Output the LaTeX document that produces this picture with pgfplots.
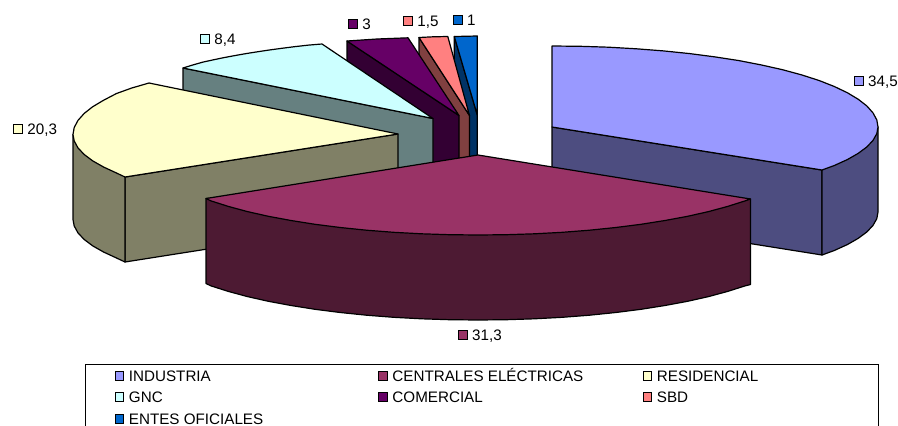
\documentclass[border=0pt]{standalone}
\usepackage{pgfplots}
\pgfplotsset{compat=1.18}
\usepackage{fontspec}
\setmainfont{Liberation Sans}

\definecolor{ind}{HTML}{9999FF}\definecolor{indd}{HTML}{4D4D80}
\definecolor{cen}{HTML}{993366}\definecolor{cend}{HTML}{4D1A33}
\definecolor{res}{HTML}{FFFFCC}\definecolor{resd}{HTML}{808066}
\definecolor{gnc}{HTML}{CCFFFF}\definecolor{gncd}{HTML}{668080}
\definecolor{com}{HTML}{660066}\definecolor{comd}{HTML}{330033}
\definecolor{sbd}{HTML}{FF8080}\definecolor{sbdd}{HTML}{804040}
\definecolor{ent}{HTML}{0066CC}\definecolor{entd}{HTML}{003366}

\pgfplotsset{
  face/.style={fill=#1,draw=black,line width=1.2pt,line join=round},
  key/.style={only marks,mark=square*,mark size=4.4pt,
    mark options={fill=#1,draw=black,line width=0.9pt}},
  lab/.style={nodes near coords={#1},
    nodes near coords style={anchor=base west,inner sep=0pt,xshift=9pt,yshift=-5.3pt,
      text=black,font=\fontsize{15.2}{17}\selectfont}},
}

\begin{document}
\begin{tikzpicture}
\begin{axis}[
  scale only axis,
  width=898pt,height=426pt,
  xmin=0,xmax=898,ymin=0,ymax=426,
  y dir=reverse,
  hide axis,
]
% keeps the page as large as the axis
\addplot[draw=none] coordinates {(0,0)(898,426)};
% ENTES OFICIALES
\addplot[face=entd] coordinates {(454.3,36.5)(477.3,115)(477.3,200)(454.3,122)} --cycle;
\addplot[face=ent] coordinates {(454.3,36.5)(477.3,36)(477.3,115)} --cycle;
% SBD
\addplot[face=sbdd] coordinates {(419,37.5)(469.5,115.5)(469.5,200)(419,122)} --cycle;
\addplot[face=sbd] coordinates {(419,37.5)(433,36.8)(447.8,36.5)(469.5,115.5)} --cycle;
% COMERCIAL
\addplot[face=comd] coordinates {(347,41)(459,115.5)(459,200)(347,126)} --cycle;
\addplot[face=com] coordinates {(347,41)(377,39)(408,37.8)(459,115.5)} --cycle;
% GNC
\addplot[face=gncd] coordinates {(183,68)(433,118.5)(433,203)(183,153)} --cycle;
\addplot[face=gnc] coordinates {(322,44)(308.6,45.1)(295.2,46.6)(282.6,48.2)(270,49.9)(258,51.7)(246,53.6)(234.7,55.6)(223.5,57.7)(213,59.9)(202.5,62.2)(192.7,65)(183,68)(433,118.5)} --cycle;
% RESIDENCIAL
\addplot[face=resd] coordinates {(125,177)(398,134)(398,219)(125,262)} --cycle;
\addplot[face=resd] coordinates {(73,134.5)(73,219.5)(74.2,226)(78,232.9)(84.1,239.4)(92.6,245.8)(103.5,252)(116.5,258)(125,262)(125,177)} --cycle;
\addplot[face=res] coordinates {(149,83)(131.8,88)(116.5,93.5)(103.5,100.3)(92.6,106.8)(84.1,113.5)(78,120.4)(74.2,127.5)(73,134.5)(74.2,141)(78,147.9)(84.1,154.4)(92.6,160.8)(103.5,167)(116.5,173)(125,177)(398,134)} --cycle;
% INDUSTRIA
\addplot[face=indd] coordinates {(552,127)(822,170)(822,255)(552,212)} --cycle;
\addplot[face=indd] coordinates {(878,127)(878,212)(876.8,218.7)(873,225.4)(866.9,231.9)(858.3,238.3)(847.5,244.5)(834.3,250.5)(822,255)(822,170)} --cycle;
\addplot[face=ind] coordinates {(552,46)(580.4,46.3)(608.6,47.2)(636.4,48.8)(663.5,50.9)(689.8,53.6)(715,56.9)(739,60.6)(761.6,65)(782.5,69.7)(801.7,74.9)(819.1,80.5)(834.3,86.5)(847.5,92.8)(858.3,99.3)(866.9,106)(873,112.9)(876.8,119.9)(878,127)(876.8,133.7)(873,140.4)(866.9,146.9)(858.3,153.3)(847.5,159.5)(834.3,165.5)(822,170)(552,127)} --cycle;
% CENTRALES ELECTRICAS
\addplot[face=cend] coordinates {(750.5,199)(750.5,284.5)(745,285.9)(727.7,291.4)(708.5,296.6)(687.6,301.3)(665,305.5)(641,309.3)(615.8,312.5)(589.5,315.2)(562.4,317.3)(534.6,318.8)(506.4,319.7)(478,320)(449.6,319.7)(421.4,318.8)(393.6,317.3)(366.5,315.2)(340.2,312.5)(315,309.3)(291,305.5)(268.4,301.3)(247.5,296.6)(228.3,291.4)(211,285.9)(206,283.5)(206,198.5)} --cycle;
\addplot[face=cen] coordinates {(478,155)(750.5,199)(745,200.9)(727.7,206.4)(708.5,211.6)(687.6,216.3)(665,220.5)(641,224.3)(615.8,227.5)(589.5,230.2)(562.4,232.3)(534.6,233.8)(506.4,234.7)(478,235)(449.6,234.7)(421.4,233.8)(393.6,232.3)(366.5,230.2)(340.2,227.5)(315,224.3)(291,220.5)(268.4,216.3)(247.5,211.6)(228.3,206.4)(211,200.9)(206,198.5)} --cycle;
% data labels
\addplot[key=ind,lab={34,5}] coordinates {(858.7,81)};
\addplot[key=cen,lab={31,3}] coordinates {(462.7,334.7)};
\addplot[key=res,lab={20,3}] coordinates {(18,129)};
\addplot[key=gnc,lab={8,4}] coordinates {(205,39)};
\addplot[key=com,lab={3}] coordinates {(353,23.7)};
\addplot[key=sbd,lab={1,5}] coordinates {(408,21)};
\addplot[key=ent,lab={1}] coordinates {(457.7,20.3)};
% legend box, runs off the bottom of the picture
\addplot[black,line width=1pt] coordinates {(85.5,427)(85.5,364.3)(878,364.3)(878,427)};
\addplot[key=ind,lab={INDUSTRIA}] coordinates {(119.5,376)};
\addplot[key=cen,lab={CENTRALES ELÉCTRICAS}] coordinates {(383,376)};
\addplot[key=res,lab={RESIDENCIAL}] coordinates {(647.5,376)};
\addplot[key=gnc,lab={GNC}] coordinates {(119.5,397)};
\addplot[key=com,lab={COMERCIAL}] coordinates {(383,397)};
\addplot[key=sbd,lab={SBD}] coordinates {(647.5,397)};
\addplot[key=ent,lab={ENTES OFICIALES}] coordinates {(119.5,418.7)};
\end{axis}
\end{tikzpicture}
\end{document}
